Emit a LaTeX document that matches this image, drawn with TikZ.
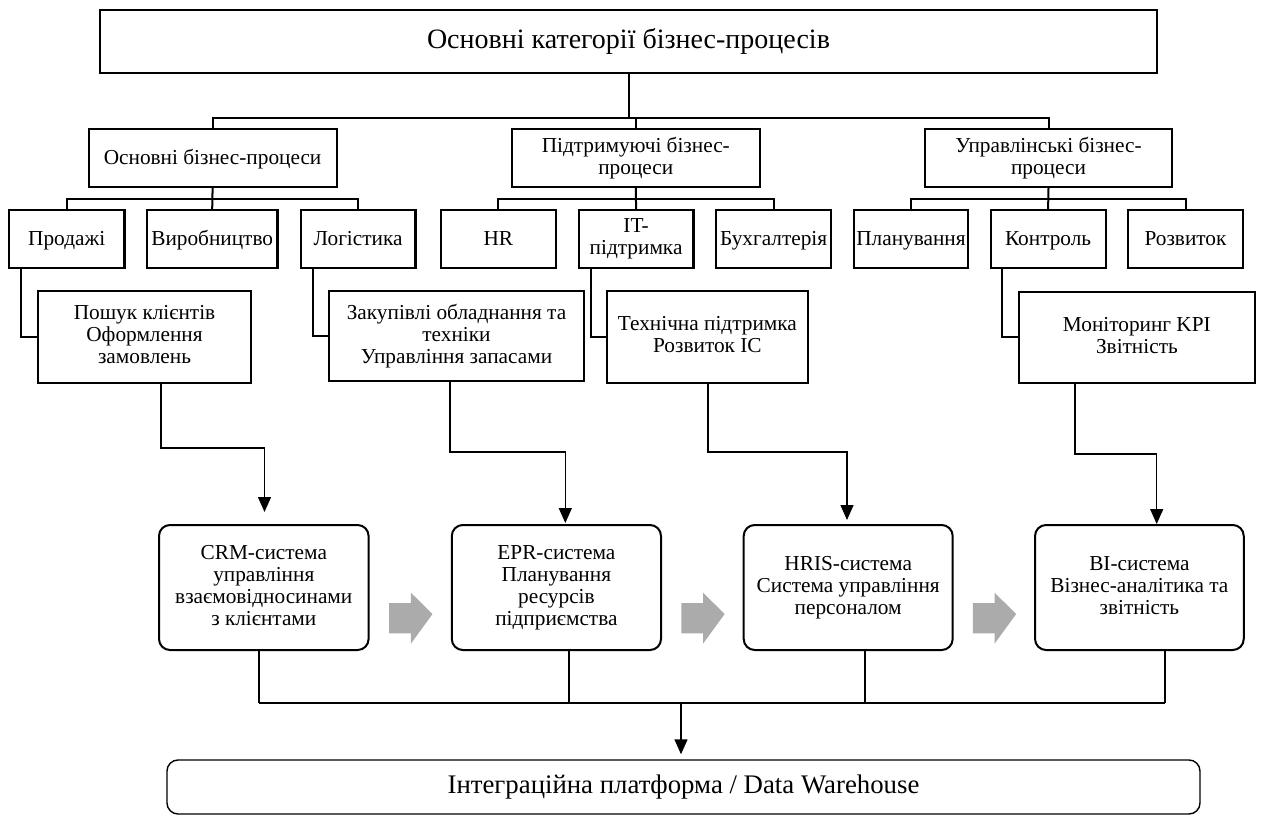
\documentclass[tikz,border=0pt]{standalone}
\usepackage{fontspec}
\setmainfont{Liberation Serif}
\usetikzlibrary{arrows.meta,calc}
\newcommand{\boxstrut}{\rule[-4.5pt]{0pt}{23pt}}
\begin{document}
\begin{tikzpicture}[x=1pt,y=-1pt,
  box/.style={draw, line width=2.2pt, align=center, inner sep=1pt,
    font=\fontsize{21.3}{22}\selectfont,
    execute at begin node=\boxstrut, execute at end node=\boxstrut},
  sys/.style={box, rounded corners=11pt, line width=2pt},
  tree/.style={line width=2pt},
  arr/.style={line width=1.4pt, -{Triangle[length=15pt,width=13pt]}},
  thin/.style={line width=1.3pt},
  greyarrow/.style={fill=black!33, draw=none}]
\useasboundingbox (0,0) rectangle (1262,816);

% top
\node[box, line width=2pt, minimum width=1057, minimum height=63,
  font=\fontsize{28}{30}\selectfont] (top) at (628.5,41.3) {Основні категорії бізнес-процесів};

% level 2
\node[box, minimum width=248, minimum height=58] (osn) at (212.6,158) {Основні бізнес-процеси};
\node[box, minimum width=248, minimum height=58] (pid) at (635.8,158) {Підтримуючі бізнес-\\процеси};
\node[box, minimum width=247, minimum height=58] (upr) at (1048.5,158) {Управлінські бізнес-\\процеси};

% level 3
\foreach \n/\x/\w/\t in {prod/66.7/115.5/Продажі, vyr/212.2/130.5/Виробництво, log/358.1/114.7/Логістика,
  hr/498.4/115.2/HR, it/636.1/114.7/{IT-\\підтримка}, buh/773.6/114.7/Бухгалтерія,
  plan/911/114/Планування, kon/1048.1/115/Контроль, roz/1185.5/115/Розвиток}
  \node[box, minimum width=\w, minimum height=57.7] (\n) at (\x,238.8) {\t};

% level 4
\node[box, minimum width=213, minimum height=92] (posh) at (144.5,337) {Пошук клієнтів\\Оформлення\\замовлень};
\node[box, minimum width=254.3, minimum height=89.7] (zak) at (456.5,335.9) {Закупівлі обладнання та\\техніки\\Управління запасами};
\node[box, minimum width=200.8, minimum height=92] (tech) at (707.4,337) {Технічна підтримка\\Розвиток ІС};
\node[box, minimum width=235.7, minimum height=91.3] (mon) at (1136.9,337.3) {Моніторинг KPI\\Звітність};

% systems
\node[sys, minimum width=209.6, minimum height=125] (crm) at (263.8,587.5) {CRM-система\\управління\\взаємовідносинами\\з клієнтами};
\node[sys, minimum width=209.2, minimum height=125] (epr) at (556.4,587.5) {EPR-система\\Планування\\ресурсів\\підприємства};
\node[sys, minimum width=209, minimum height=125] (hris) at (848.2,587.5) {HRIS-система\\Система управління\\персоналом};
\node[sys, minimum width=208.7, minimum height=125] (bi) at (1139.4,587.5) {BI-система\\Візнес-аналітика та\\звітність};

% bottom
\node[draw, line width=1.4pt, rounded corners=11pt, minimum width=1033, minimum height=54,
  font=\fontsize{26.8}{28}\selectfont] (dw) at (683.5,787) {Інтеграційна платформа / Data Warehouse};

% tree connectors
\coordinate (b1) at (0,118);
\coordinate (b2) at (0,199);
\draw[tree] (top.south) -- (top.south |- b1);
\draw[tree] (osn.north) -- (osn.north |- b1) -- (upr.north |- b1) -- (upr.north);
\draw[tree] (pid.north) -- (pid.north |- b1);
\draw[tree] (prod.north) -- (prod.north |- b2) -- (log.north |- b2) -- (log.north);
\draw[tree] (vyr.north) -- (osn.south);
\draw[tree] (hr.north) -- (hr.north |- b2) -- (buh.north |- b2) -- (buh.north);
\draw[tree] (it.north) -- (pid.south);
\draw[tree] (plan.north) -- (plan.north |- b2) -- (roz.north |- b2) -- (roz.north);
\draw[tree] (kon.north) -- (upr.south);

% side connectors to detail boxes
\coordinate (s1) at (21,0);
\coordinate (s2) at (313,0);
\coordinate (s3) at (590.6,0);
\coordinate (s4) at (1002.4,0);
\draw[tree] (prod.south -| s1) |- (posh.west);
\draw[tree] (log.south -| s2) |- (zak.west);
\draw[tree] (it.south -| s3) |- (tech.west);
\draw[tree] (kon.south -| s4) |- (mon.west);

% arrows to systems
\coordinate (a1) at (161,448);   \coordinate (t1) at (264.5,0);
\coordinate (a2) at (449.8,452); \coordinate (t2) at (565.3,0);
\coordinate (a3) at (708,452);   \coordinate (t3) at (847,0);
\coordinate (a4) at (1075,454);  \coordinate (t4) at (1156.7,0);
\draw[arr, shorten >=12pt] (posh.south -| a1) -- (a1) -| (crm.north -| t1);
\draw[arr, shorten >=1pt] (zak.south -| a2) -- (a2) -| (epr.north -| t2);
\draw[arr, shorten >=4pt] (tech.south -| a3) -- (a3) -| (hris.north -| t3);
\draw[arr] (mon.south -| a4) -- (a4) -| (bi.north -| t4);

% grey block arrows
\foreach \a/\b in {crm/epr, epr/hris, hris/bi}{
  \path ($(\a.east)!0.5!(\b.west)$) coordinate (gc);
  \fill[greyarrow] ([xshift=-21pt,yshift=-15pt]gc |- 0,588) -- ++(21.7,0) -- ++(0,-10.3)
    -- ++(21.6,21.3) -- ++(-21.6,29.7) -- ++(0,-10.3) -- ++(-21.7,0) -- cycle;
}

% bus to data warehouse
\coordinate (bus) at (0,703);
\coordinate (c1) at (259,0);
\coordinate (c2) at (569,0);
\coordinate (c3) at (865,0);
\coordinate (c4) at (1165,0);
\coordinate (m) at (681,703);
\draw[thin] (crm.south -| c1) -- (c1 |- bus);
\draw[thin] (epr.south -| c2) -- (c2 |- bus);
\draw[thin] (hris.south -| c3) -- (c3 |- bus);
\draw[thin] (bi.south -| c4) -- (c4 |- bus);
\draw[tree] (c1 |- bus) -- (c4 |- bus);
\draw[arr, shorten >=5pt] (m) -- (dw.north -| m);
\end{tikzpicture}
\end{document}
